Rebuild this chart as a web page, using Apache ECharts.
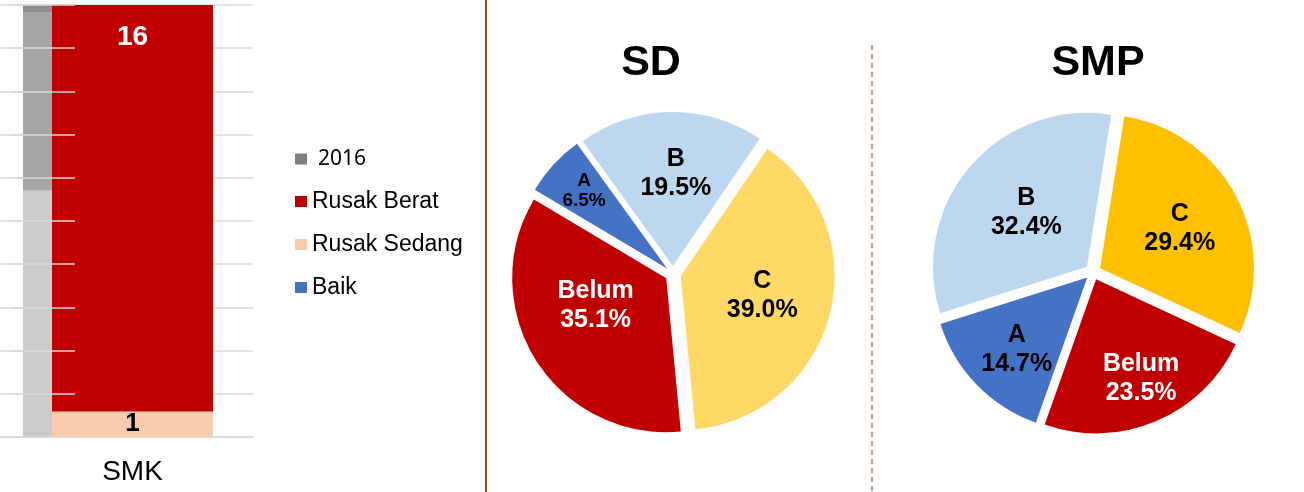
<!DOCTYPE html>
<html>
<head>
<meta charset="utf-8">
<script src="https://cdn.jsdelivr.net/npm/echarts@6/dist/echarts.min.js"></script>
<style>
  html, body { margin: 0; padding: 0; background: #fff; }
  #chart { width: 1304px; height: 492px; }
</style>
</head>
<body>
<div id="chart"></div>
<script>
// bar part (cropped SMK column)
const barCategories = ['SMK']
const greyNames = ['2016 Baik', '2016', '2016 Rusak Berat']
const greyValues = [9.7, 7.0, 0.3]
const baikValues = [0]
const rusakSedangValues = [1]
const rusakBeratValues = [16]
const legendNames = ['2016', 'Rusak Berat', 'Rusak Sedang', 'Baik']

// pies
const sdNames = ['A', 'B', 'C', 'Belum']
const sdValues = [6.5, 19.5, 39.0, 35.1]
const smpNames = ['A', 'B', 'C', 'Belum']
const smpValues = [14.7, 32.4, 29.4, 23.5]

const FONT = '"Liberation Sans", Arial, sans-serif'
const greyColors = ['#cbcbcb', '#a6a6a6', '#8e8e8e']
const sliceColors = {
  sd: { A: '#4472c4', B: '#bdd7ee', C: '#ffd966', Belum: '#c00000' },
  smp: { A: '#4472c4', B: '#bdd7ee', C: '#ffc000', Belum: '#c00000' }
}
// nudges so the labels sit where the original placed them
const labelShift = {
  sd: { A: [-24, -24], B: [4, -12], C: [4, 0], Belum: [-3, -15] },
  smp: { A: [-13, 16], B: [0, -2], C: [9, -2], Belum: [14, 25] }
}

function pieData(kind, names, values) {
  return names.map((name, i) => ({
    name,
    value: values[i],
    selected: true,
    itemStyle: { color: sliceColors[kind][name] },
    label: {
      color: name === 'Belum' ? '#fff' : '#000',
      fontSize: name === 'A' && kind === 'sd' ? 19 : 25,
      lineHeight: name === 'A' && kind === 'sd' ? 20 : 29
    }
  }))
}

function pieSeries(kind, names, values, center, startAngle) {
  return {
    type: 'pie',
    center,
    radius: 154,
    startAngle,
    selectedMode: 'multiple',
    selectedOffset: 8,
    avoidLabelOverlap: false,
    emphasis: { disabled: true },
    select: { itemStyle: { borderWidth: 0 } },
    label: {
      position: 'inside',
      fontFamily: FONT,
      fontWeight: 'bold',
      formatter: (p) => p.name + '\n' + p.value.toFixed(1) + '%'
    },
    labelLine: { show: false },
    labelLayout: (p) => {
      const s = labelShift[kind][names[p.dataIndex]]
      return { dx: s[0], dy: s[1] }
    },
    data: pieData(kind, names, values)
  }
}

const splitStyle = { show: true, lineStyle: { color: '#d9d9d9', width: 1.5 } }
const titleStyle = { fontFamily: FONT, fontSize: 43, fontWeight: 'bold', color: '#000' }

const option = {
  animation: false,
  title: [
    { text: 'SD', left: 646, top: 37, textAlign: 'center', textStyle: titleStyle },
    { text: 'SMP', left: 1093, top: 37, textAlign: 'center', textStyle: titleStyle }
  ],
  legend: {
    orient: 'vertical',
    left: 290,
    top: 143,
    icon: 'rect',
    itemWidth: 12,
    itemHeight: 11,
    itemGap: 20,
    selectedMode: false,
    textStyle: { fontFamily: FONT, fontSize: 23, lineHeight: 22, color: '#000' },
    data: legendNames.map((name) => name === '2016'
      ? { name, itemStyle: { color: '#808080' }, textStyle: { fontFamily: '"Noto Sans", sans-serif', fontSize: 21, padding: [0, 0, 0, 6] } }
      : { name })
  },
  grid: [
    { left: 12, width: 241, top: 5, height: 432 },
    { left: 0, width: 75, top: 5, height: 432 }
  ],
  xAxis: [
    {
      gridIndex: 0,
      type: 'category',
      data: barCategories,
      axisLine: { lineStyle: { color: '#d9d9d9', width: 1.5 } },
      axisTick: { show: false },
      axisLabel: { color: '#000', fontFamily: FONT, fontSize: 28, margin: 21 }
    },
    {
      gridIndex: 1,
      type: 'category',
      data: barCategories,
      axisLine: { lineStyle: { color: '#d9d9d9', width: 1.5 } },
      axisTick: { show: false },
      axisLabel: { show: false }
    }
  ],
  yAxis: [
    { gridIndex: 0, type: 'value', min: 0, max: 17, interval: 1.7, axisLabel: { show: false }, splitLine: splitStyle },
    { gridIndex: 1, type: 'value', min: 0, max: 17, interval: 1.7, z: 5, axisLabel: { show: false }, splitLine: splitStyle }
  ],
  series: [
    ...greyNames.map((name, i) => ({
      name,
      type: 'bar',
      xAxisIndex: 1,
      yAxisIndex: 1,
      stack: 'grey',
      barWidth: 29,
      itemStyle: { color: greyColors[i] },
      emphasis: { disabled: true },
      data: [greyValues[i]]
    })),
    {
      name: 'Baik', type: 'bar', stack: 'kondisi', barWidth: 161,
      itemStyle: { color: '#4472c4' }, emphasis: { disabled: true },
      data: baikValues
    },
    {
      name: 'Rusak Sedang', type: 'bar', stack: 'kondisi', barWidth: 161,
      itemStyle: { color: '#f8cbad' }, emphasis: { disabled: true },
      label: { show: true, position: 'inside', color: '#000', fontFamily: FONT, fontWeight: 'bold', fontSize: 26 },
      data: rusakSedangValues
    },
    {
      name: 'Rusak Berat', type: 'bar', stack: 'kondisi', barWidth: 161,
      itemStyle: { color: '#c00000' }, emphasis: { disabled: true },
      label: { show: true, position: 'insideTop', distance: 18, color: '#fff', fontFamily: FONT, fontWeight: 'bold', fontSize: 28 },
      data: rusakBeratValues
    },
    pieSeries('sd', sdNames, sdValues, [673, 274], 149.2),
    pieSeries('smp', smpNames, smpValues, [1093, 272], 250.5)
  ],
  graphic: [
    { type: 'line', shape: { x1: 486, y1: 0, x2: 486, y2: 492 }, style: { stroke: '#974c1f', lineWidth: 2 } },
    { type: 'line', shape: { x1: 872, y1: 45, x2: 872, y2: 492 }, style: { stroke: '#b5835a', lineWidth: 1.5, lineDash: [5, 4] } }
  ]
}

const chart = echarts.init(document.getElementById('chart'))
chart.setOption(option)
</script>
</body>
</html>
